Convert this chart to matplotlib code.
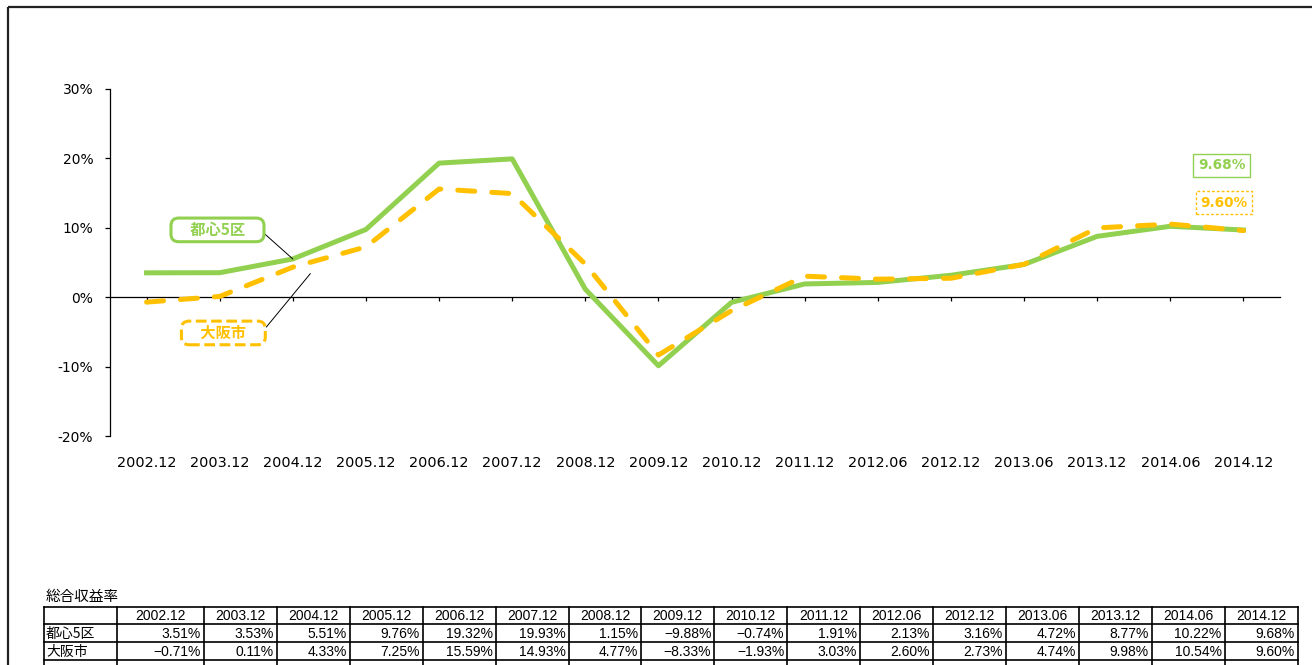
import matplotlib.pyplot as plt
from matplotlib.patches import Rectangle

plt.rcParams['font.family'] = ['DejaVu Sans', 'Noto Sans CJK JP']
plt.rcParams['axes.unicode_minus'] = False

# data (総合収益率, %)
periods = ['2002.12', '2003.12', '2004.12', '2005.12', '2006.12', '2007.12', '2008.12', '2009.12',
           '2010.12', '2011.12', '2012.06', '2012.12', '2013.06', '2013.12', '2014.06', '2014.12']
tokyo5 = [3.51, 3.53, 5.51, 9.76, 19.32, 19.93, 1.15, -9.88,
          -0.74, 1.91, 2.13, 3.16, 4.72, 8.77, 10.22, 9.68]
osaka = [-0.71, 0.11, 4.33, 7.25, 15.59, 14.93, 4.77, -8.33,
         -1.93, 3.03, 2.60, 2.73, 4.74, 9.98, 10.54, 9.60]
series_names = ['都心5区', '大阪市']
table_title = '総合収益率'
yticks = [-20, -10, 0, 10, 20, 30]

GREEN = '#92D050'
ORANGE = '#FFC000'
CJK = ['Noto Sans CJK JP', 'DejaVu Sans']
NUM = ['Liberation Sans Narrow', 'Liberation Sans', 'Noto Sans CJK JP']

W, H = 1312, 665
fig = plt.figure(figsize=(W / 100, H / 100), dpi=100)

# pixel overlay: outer frame + data table
bg = fig.add_axes([0, 0, 1, 1])
bg.set_xlim(0, W)
bg.set_ylim(H, 0)
bg.axis('off')
bg.add_patch(Rectangle((8, 7), 1400, 700, fill=False, lw=1.6, ec='#222222'))

# chart
ax = fig.add_axes([110 / W, 1 - 436 / H, 1170 / W, 347 / H])
x = list(range(len(periods)))
ax.plot(x, tokyo5, color=GREEN, lw=3.6, zorder=3)
ax.plot(x, osaka, color=ORANGE, lw=3.6, dashes=(3.4, 3.4), dash_capstyle='round', zorder=4)

ax.set_xlim(-0.5, len(periods) - 0.5)
ax.set_ylim(-20, 30)
for s in ['top', 'right']:
    ax.spines[s].set_visible(False)
ax.spines['bottom'].set_position(('data', 0))
ax.spines['bottom'].set_linewidth(0.9)
ax.spines['left'].set_linewidth(0.9)

ax.set_yticks(yticks)
ax.set_yticklabels([f'{v}%' for v in yticks])
ax.tick_params(axis='y', direction='out', length=3.6, width=0.9, pad=8.5, labelsize=10)
ax.set_xticks(x)
ax.set_xticklabels(periods)
ax.tick_params(axis='x', direction='out', length=3, width=0.9, pad=111, labelsize=10.4)

# series labels
ax.annotate('\u3000' + series_names[0] + '\u3000', xy=(2, tokyo5[2]), xytext=(0.97, 9.7),
            ha='center', va='center', fontsize=11, fontweight='bold', color=GREEN, family=CJK,
            bbox=dict(boxstyle='round,pad=0.25,rounding_size=0.5', fc='white', ec=GREEN, lw=2.2),
            arrowprops=dict(arrowstyle='-', color='black', lw=0.7, relpos=(1, 0.5),
                            shrinkA=0, shrinkB=0), zorder=5)
ax.annotate('\u3000' + series_names[1] + '\u3000', xy=(2.24, 3.4), xytext=(1.05, -5.15),
            ha='center', va='center', fontsize=11, fontweight='bold', color=ORANGE, family=CJK,
            bbox=dict(boxstyle='round,pad=0.25,rounding_size=0.5', fc='white', ec=ORANGE, lw=2.2,
                      ls=(0, (3.5, 1.5))),
            arrowprops=dict(arrowstyle='-', color='black', lw=0.7, relpos=(1, 0.5),
                            shrinkA=0, shrinkB=0), zorder=5)

# end value labels
ax.text(14.70, 19.0, f'{tokyo5[-1]:.2f}%', ha='center', va='center', fontsize=9.8,
        fontweight='bold', color=GREEN,
        bbox=dict(boxstyle='square,pad=0.33', fc='white', ec=GREEN, lw=1))
ax.text(14.73, 13.6, f'{osaka[-1]:.2f}%', ha='center', va='center', fontsize=9.8,
        fontweight='bold', color=ORANGE,
        bbox=dict(boxstyle='square,pad=0.33', fc='white', ec=ORANGE, lw=1, ls=(0, (2, 1.5))))

# data table
bg.text(46, 597, table_title, ha='left', va='center', fontsize=10.5, family=CJK)
col_edges = [44, 117, 204] + [204 + 72.9 * k for k in range(1, 16)]
row_edges = [607, 624, 642, 660]
for yy in row_edges:
    bg.plot([col_edges[0], col_edges[-1]], [yy, yy], color='black', lw=1.2)
for xx in col_edges:
    bg.plot([xx, xx], [row_edges[0], H + 5], color='black', lw=1.2)


def fmt(v):
    s = f'{abs(v):.2f}%'
    return ('\u2212' + s) if v < 0 else s


for i, p in enumerate(periods):
    cx = (col_edges[i + 1] + col_edges[i + 2]) / 2
    bg.text(cx, 616, p, ha='center', va='center', fontsize=10, family=NUM)
for r, (name, vals) in enumerate(zip(series_names, [tokyo5, osaka])):
    cy = (row_edges[r + 1] + row_edges[r + 2]) / 2 + 0.5
    bg.text(46, cy, name, ha='left', va='center', fontsize=10, family=CJK)
    for i, v in enumerate(vals):
        bg.text(col_edges[i + 2] - 3, cy, fmt(v), ha='right', va='center', fontsize=10, family=NUM)

fig.savefig('out.png', dpi=100)
